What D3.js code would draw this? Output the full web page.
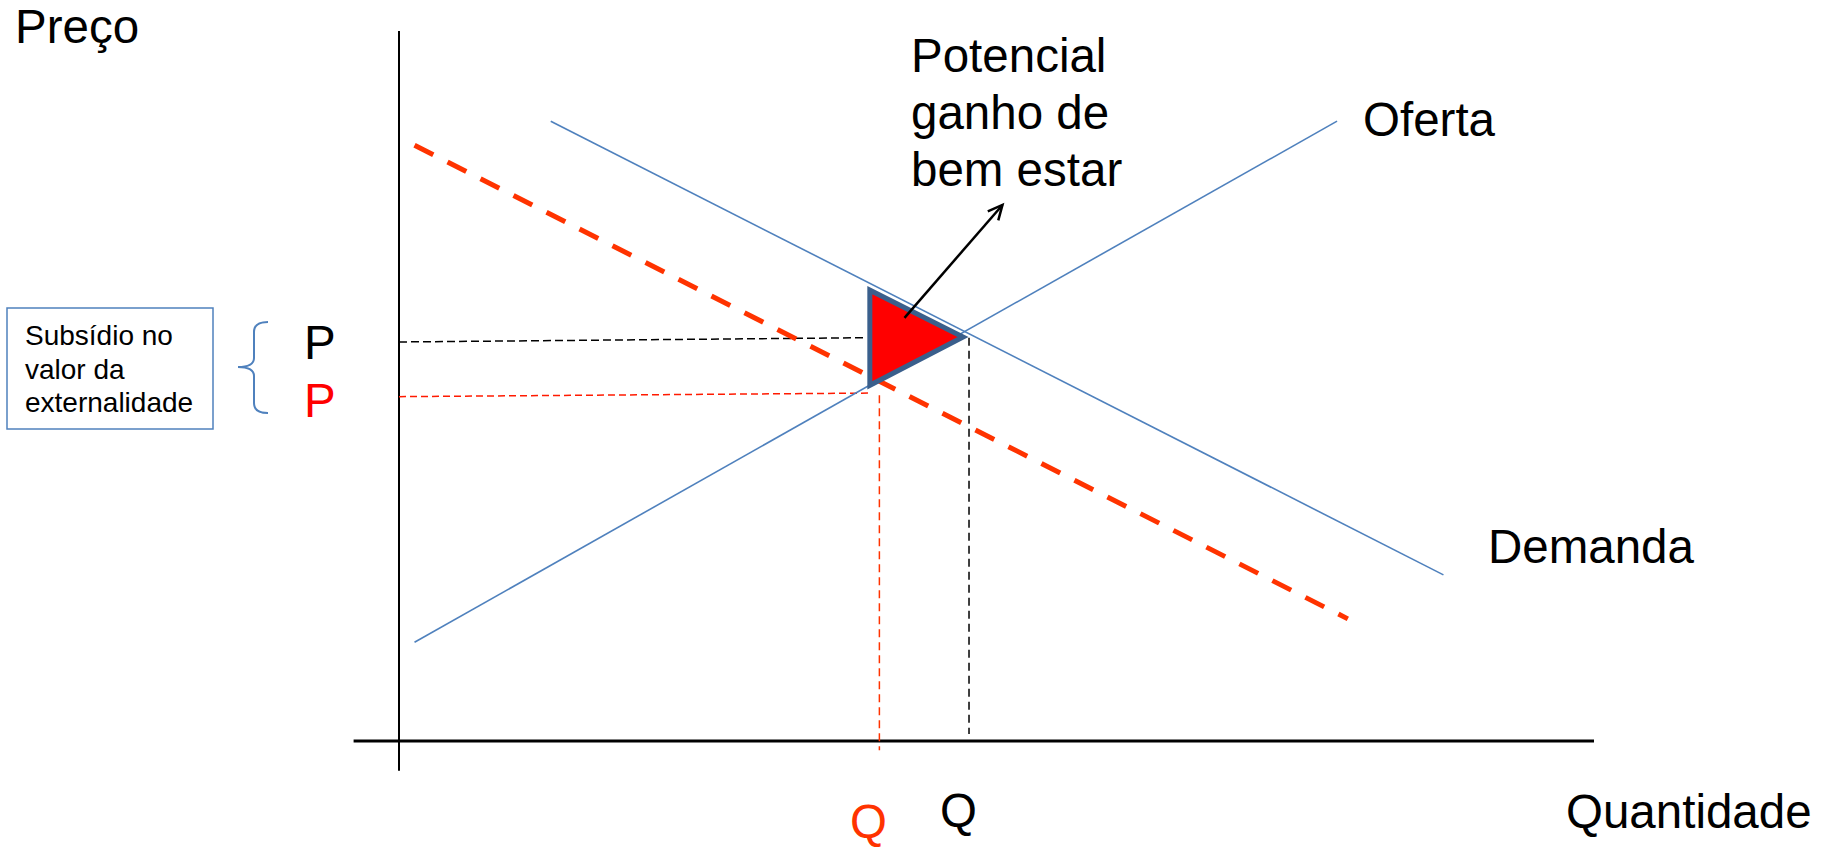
<!DOCTYPE html>
<html>
<head>
<meta charset="utf-8">
<script src="https://cdn.jsdelivr.net/npm/d3@7"></script>
<style>
  html, body { margin: 0; padding: 0; background: #fff; }
  svg { display: block; }
  text { font-family: "Liberation Sans", Arial, sans-serif; }
</style>
</head>
<body>
<svg id="chart" width="1822" height="848"></svg>
<script>
// ---- Data (quantity, price) in chart units ----
const supplyLine   = [[0.13, 1.39], [7.85, 8.73]];          // Oferta
const demandLine   = [[1.27, 8.73], [8.74, 2.34]];          // Demanda
const socialDemand = [[0.13, 8.39], [7.94, 1.72]];          // demanda + externalidade (tracejada)
const priceP       = [[0, 5.62], [3.91, 5.68]];             // P (preço de mercado)
const priceSub     = [[0, 4.85], [3.93, 4.90]];             // P com subsídio
const qMarket      = [[4.77, 5.68], [4.77, 0.10]];          // Q de mercado
const qSub         = [[4.02, 4.87], [4.02, -0.13]];         // Q com subsídio
const welfareTri   = [[3.94, 6.35], [3.94, 5.01], [4.72, 5.69]]; // potencial ganho
const arrowPts     = [[4.23, 5.96], [5.05, 7.55]];
const xAxisExtent  = [-0.38, 10];
const yAxisExtent  = [-0.42, 10];

const potencialLines = ["Potencial", "ganho de", "bem estar"];
const boxLines = ["Subsídio no", "valor da", "externalidade"];

// ---- Scales ----
const x = d3.scaleLinear().domain([0, 10]).range([399, 1594]);
const y = d3.scaleLinear().domain([0, 10]).range([741, 31]);

const svg = d3.select("#chart");
const line = d3.line().x(d => x(d[0])).y(d => y(d[1]));

// Axes (plain lines)
svg.append("line")
  .attr("x1", x(0)).attr("x2", x(0))
  .attr("y1", y(yAxisExtent[1])).attr("y2", y(yAxisExtent[0]))
  .attr("stroke", "#000").attr("stroke-width", 2);
svg.append("line")
  .attr("x1", x(xAxisExtent[0])).attr("x2", x(xAxisExtent[1]))
  .attr("y1", y(0)).attr("y2", y(0))
  .attr("stroke", "#000").attr("stroke-width", 3);

// Guide dashed lines
svg.append("path").attr("d", line(priceP))
  .attr("fill", "none").attr("stroke", "#000").attr("stroke-width", 1.5)
  .attr("stroke-dasharray", "8,4");
svg.append("path").attr("d", line(qMarket))
  .attr("fill", "none").attr("stroke", "#000").attr("stroke-width", 1.5)
  .attr("stroke-dasharray", "8,5");
svg.append("path").attr("d", line(priceSub))
  .attr("fill", "none").attr("stroke", "#FF1A00").attr("stroke-width", 1.5)
  .attr("stroke-dasharray", "7,4");
svg.append("path").attr("d", line(qSub))
  .attr("fill", "none").attr("stroke", "#FF3300").attr("stroke-width", 1.5)
  .attr("stroke-dasharray", "8,5");

// Social demand (thick dashed)
svg.append("path").attr("d", line(socialDemand))
  .attr("fill", "none").attr("stroke", "#FF3300").attr("stroke-width", 5)
  .attr("stroke-dasharray", "21,16");

// Supply & Demand
svg.append("path").attr("d", line(supplyLine))
  .attr("fill", "none").attr("stroke", "#4F81BD").attr("stroke-width", 1.6);
svg.append("path").attr("d", line(demandLine))
  .attr("fill", "none").attr("stroke", "#4F81BD").attr("stroke-width", 1.6);

// Welfare triangle
svg.append("path").attr("d", line(welfareTri) + "Z")
  .attr("fill", "#FF0000").attr("stroke", "#3A5F8C").attr("stroke-width", 5)
  .attr("stroke-linejoin", "miter");

// Arrow
const ax1 = x(arrowPts[0][0]), ay1 = y(arrowPts[0][1]);
const ax2 = x(arrowPts[1][0]), ay2 = y(arrowPts[1][1]);
svg.append("line").attr("x1", ax1).attr("y1", ay1).attr("x2", ax2).attr("y2", ay2)
  .attr("stroke", "#000").attr("stroke-width", 2.5);
const ang = Math.atan2(ay2 - ay1, ax2 - ax1);
const hl = 16, ha = Math.PI / 7;
svg.append("path")
  .attr("d", `M${ax2 - hl*Math.cos(ang - ha)},${ay2 - hl*Math.sin(ang - ha)} L${ax2},${ay2} L${ax2 - hl*Math.cos(ang + ha)},${ay2 - hl*Math.sin(ang + ha)}`)
  .attr("fill", "none").attr("stroke", "#000").attr("stroke-width", 2.5)
  .attr("stroke-linejoin", "miter");

// Texts
const big = 47.5;
function txt(t, tx, ty, color, size) {
  svg.append("text").attr("x", tx).attr("y", ty)
    .attr("font-size", size || big).attr("fill", color || "#000").text(t);
}
txt("Preço", 15, 43);
txt("Quantidade", 1566, 828);
txt("Oferta", 1363, 136);
txt("Demanda", 1488, 563);
potencialLines.forEach((t, i) => txt(t, 911, 72 + i * 57));
txt("P", 304, 359);
txt("P", 304, 417, "#FF0000");
txt("Q", 940, 827);
txt("Q", 850, 838, "#FF3300");

// Box
svg.append("rect").attr("x", 7).attr("y", 308).attr("width", 206).attr("height", 121)
  .attr("fill", "none").attr("stroke", "#4F81BD").attr("stroke-width", 1.5);
boxLines.forEach((t, i) => txt(t, 25, 345 + i * 33.5, "#000", 28));

// Brace
svg.append("path")
  .attr("d", "M268,322 Q254,322 254,332 L254,358 Q254,367 238,367 Q254,367 254,376 L254,403 Q254,413 268,413")
  .attr("fill", "none").attr("stroke", "#4F81BD").attr("stroke-width", 2);
</script>
</body>
</html>
